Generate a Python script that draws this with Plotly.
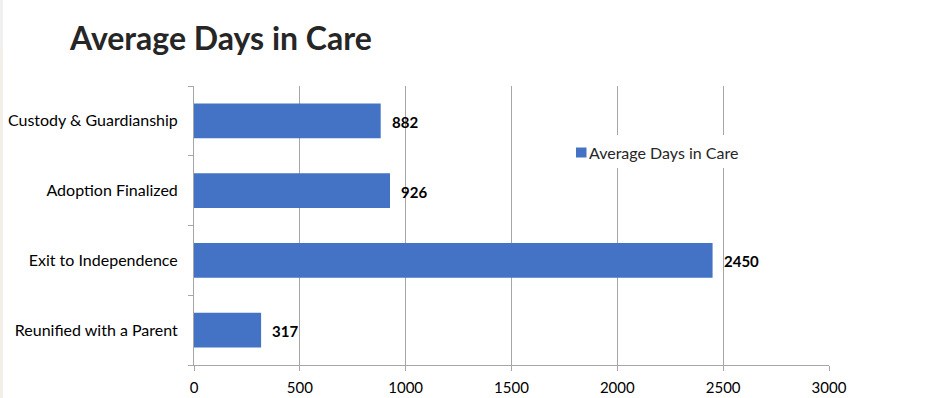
import plotly.graph_objects as go

# Average days in care by exit type
categories = ["Reunified with a Parent", "Exit to Independence", "Adoption Finalized", "Custody & Guardianship"]
days = [317, 2450, 926, 882]
series_name = "Average Days in Care"
x_ticks = [0, 500, 1000, 1500, 2000, 2500, 3000]

BAR_COLOR = "#4472C4"
AXIS_GREY = "#A6A6A6"
FONT = "Lato, 'Open Sans', sans-serif"
W, H = 931, 398
ml, mr, mt, mb = 194, 102, 86, 33
pw, ph = W - ml - mr, H - mt - mb


def fx(p):
    """container pixel x -> plot-area paper fraction"""
    return (p - ml) / pw


def fy(p):
    """container pixel y (from top) -> plot-area paper fraction"""
    return (H - p - mb) / ph


fig = go.Figure()
fig.add_trace(go.Bar(
    y=categories,
    x=days,
    orientation="h",
    name=series_name,
    marker=dict(color=BAR_COLOR, line=dict(width=0)),
    width=0.5,
    showlegend=False,
))

# value labels just past the bar ends
for cat, val in zip(categories, days):
    fig.add_annotation(
        x=val, y=cat, text=f"<b>{val}</b>", showarrow=False,
        xanchor="left", xshift=9, yshift=-1,
        font=dict(family=FONT, size=15, color="#000000"),
    )

# legend box: white patch over the gridlines, colour key and series name
shapes = [
    dict(type="rect", xref="paper", yref="paper", layer="above",
         x0=fx(572), x1=fx(746), y0=fy(168), y1=fy(135),
         fillcolor="white", line=dict(width=0)),
    dict(type="rect", xref="paper", yref="paper", layer="above",
         x0=fx(576), x1=fx(586.5), y0=fy(157.5), y1=fy(147.5),
         fillcolor=BAR_COLOR, line=dict(width=0)),
    # faint strip along the left edge of the slide
    dict(type="rect", xref="paper", yref="paper", layer="below",
         x0=fx(0), x1=fx(3), y0=fy(50), y1=fy(0),
         fillcolor="#F0F0F0", line=dict(width=0)),
    dict(type="rect", xref="paper", yref="paper", layer="below",
         x0=fx(0), x1=fx(3), y0=fy(H), y1=fy(50),
         fillcolor="#F3EEE8", line=dict(width=0)),
]
fig.update_layout(shapes=shapes)

fig.add_annotation(
    xref="paper", yref="paper",
    x=fx(587), y=fy(152.5),
    xanchor="left", yanchor="middle", showarrow=False,
    text=series_name,
    font=dict(family=FONT, size=16, color="#262626"),
)

fig.update_layout(
    width=W, height=H,
    margin=dict(l=ml, r=mr, t=mt, b=mb),
    paper_bgcolor="white", plot_bgcolor="white",
    font=dict(family=FONT, size=14, color="#262626"),
    title=dict(
        text="<b>Average Days in Care</b>",
        x=70 / W, xanchor="left", xref="container",
        y=1 - 39 / H, yanchor="middle", yref="container",
        font=dict(family=FONT, size=32, color="#262626"),
    ),
    showlegend=False,
    bargap=0.5,
)

fig.update_xaxes(
    range=[0, 3000], tickvals=x_ticks, ticktext=[str(v) for v in x_ticks],
    showgrid=True, gridcolor=AXIS_GREY, gridwidth=1,
    showline=True, linecolor=AXIS_GREY, linewidth=1,
    ticks="outside", ticklen=5, tickcolor=AXIS_GREY,
    tickfont=dict(family=FONT, size=15, color="#000000"),
    ticklabelstandoff=4,
    zeroline=False, fixedrange=True, automargin=False,
)
fig.update_yaxes(
    categoryorder="array", categoryarray=categories,
    showline=True, linecolor=AXIS_GREY, linewidth=1,
    ticks="outside", ticklen=5, tickcolor=AXIS_GREY, tickson="boundaries",
    tickfont=dict(family=FONT, size=16, color="#000000"),
    ticklabelstandoff=12,
    showgrid=False, fixedrange=True, automargin=False,
)

fig.write_html("out.html")
